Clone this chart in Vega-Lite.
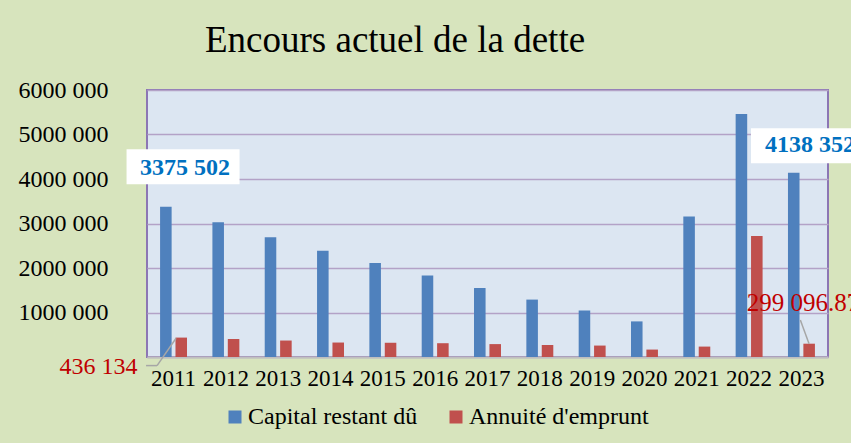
{
  "$schema": "https://vega.github.io/schema/vega-lite/v6.json",
  "width": 681,
  "height": 267,
  "autosize": {"type": "none"},
  "padding": {"left": 147, "top": 90, "right": 23, "bottom": 86},
  "background": "#D7E4BD",
  "config": {
    "font": "Liberation Serif",
    "view": {"fill": "#DCE6F2", "stroke": "#8C76B4", "strokeWidth": 2}
  },
  "title": {
    "text": "Encours actuel de la dette",
    "font": "Liberation Serif",
    "fontSize": 37,
    "fontWeight": "normal",
    "color": "#000000",
    "anchor": "start",
    "frame": "group",
    "dx": 58,
    "dy": -14
  },
  "data": {
    "values": [
      {"year": "2011", "serie": "Capital restant dû", "value": 3375502, "lbl": "3375 502"},
      {"year": "2012", "serie": "Capital restant dû", "value": 3030000},
      {"year": "2013", "serie": "Capital restant dû", "value": 2690000},
      {"year": "2014", "serie": "Capital restant dû", "value": 2390000},
      {"year": "2015", "serie": "Capital restant dû", "value": 2110000},
      {"year": "2016", "serie": "Capital restant dû", "value": 1830000},
      {"year": "2017", "serie": "Capital restant dû", "value": 1550000},
      {"year": "2018", "serie": "Capital restant dû", "value": 1290000},
      {"year": "2019", "serie": "Capital restant dû", "value": 1045000},
      {"year": "2020", "serie": "Capital restant dû", "value": 800000},
      {"year": "2021", "serie": "Capital restant dû", "value": 3160000},
      {"year": "2022", "serie": "Capital restant dû", "value": 5460000},
      {"year": "2023", "serie": "Capital restant dû", "value": 4138352, "lbl": "4138 352"},
      {"year": "2011", "serie": "Annuité d'emprunt", "value": 436134, "lbl": "436 134"},
      {"year": "2012", "serie": "Annuité d'emprunt", "value": 405000},
      {"year": "2013", "serie": "Annuité d'emprunt", "value": 370000},
      {"year": "2014", "serie": "Annuité d'emprunt", "value": 325000},
      {"year": "2015", "serie": "Annuité d'emprunt", "value": 320000},
      {"year": "2016", "serie": "Annuité d'emprunt", "value": 310000},
      {"year": "2017", "serie": "Annuité d'emprunt", "value": 290000},
      {"year": "2018", "serie": "Annuité d'emprunt", "value": 270000},
      {"year": "2019", "serie": "Annuité d'emprunt", "value": 257000},
      {"year": "2020", "serie": "Annuité d'emprunt", "value": 167000},
      {"year": "2021", "serie": "Annuité d'emprunt", "value": 234000},
      {"year": "2022", "serie": "Annuité d'emprunt", "value": 2720000},
      {"year": "2023", "serie": "Annuité d'emprunt", "value": 299096.87, "lbl": "299 096.87"}
    ]
  },
  "encoding": {
    "x": {
      "field": "year",
      "type": "nominal",
      "scale": {"paddingInner": 0.485, "paddingOuter": 0.25},
      "axis": {
        "title": null,
        "labelAngle": 0,
        "labelFontSize": 23,
        "labelColor": "#000000",
        "labelPadding": 10,
        "ticks": false,
        "domainColor": "#BFBFBF",
        "domainWidth": 2,
        "grid": false
      }
    },
    "y": {
      "field": "value",
      "type": "quantitative",
      "scale": {"domain": [0, 6000000], "nice": false, "zero": true},
      "axis": {
        "title": null,
        "values": [0, 1000000, 2000000, 3000000, 4000000, 5000000, 6000000],
        "labelExpr": "datum.value == 0 ? '' : format(datum.value / 1000000, 'd') + '000 000'",
        "labelFontSize": 24,
        "labelColor": "#000000",
        "labelPadding": 39,
        "ticks": false,
        "domain": false,
        "grid": true,
        "gridColor": "#B3A2C7",
        "gridWidth": 1.5
      }
    }
  },
  "layer": [
    {
      "mark": {"type": "bar"},
      "encoding": {
        "xOffset": {
          "field": "serie",
          "type": "nominal",
          "sort": ["Capital restant dû", "Annuité d'emprunt"],
          "scale": {"paddingInner": 0.25}
        },
        "color": {
          "field": "serie",
          "type": "nominal",
          "sort": ["Capital restant dû", "Annuité d'emprunt"],
          "scale": {"domain": ["Capital restant dû", "Annuité d'emprunt"], "range": ["#4F81BD", "#C0504D"]},
          "legend": {
            "title": null,
            "orient": "none",
            "legendX": 76,
            "legendY": 315,
            "direction": "horizontal",
            "symbolType": "square",
            "symbolSize": 169,
            "symbolStrokeWidth": 0,
            "labelFontSize": 24,
            "labelFont": "Liberation Serif",
            "labelColor": "#000000",
            "labelOffset": 1,
            "labelLimit": 0,
            "columnPadding": 26
          }
        }
      }
    },
    {
      "transform": [{"filter": "datum.year == '2011' && datum.serie == 'Capital restant dû'"}],
      "mark": {"type": "point", "shape": "M-1,-0.31L1,-0.31L1,0.31L-1,0.31Z", "size": 12769, "filled": true, "fill": "#FFFFFF", "opacity": 1, "strokeWidth": 0, "xOffset": 9.5, "yOffset": -40}
    },
    {
      "transform": [{"filter": "datum.year == '2023' && datum.serie == 'Capital restant dû'"}],
      "mark": {"type": "point", "shape": "M-1,-0.31L1,-0.31L1,0.31L-1,0.31Z", "size": 12769, "filled": true, "fill": "#FFFFFF", "opacity": 1, "strokeWidth": 0, "xOffset": 6, "yOffset": -27}
    },
    {
      "transform": [{"filter": "datum.year == '2011' && datum.serie == 'Capital restant dû'"}],
      "mark": {"type": "text", "fontSize": 24, "fontWeight": "bold", "color": "#0070C0", "align": "center", "baseline": "middle", "dx": 11.5, "dy": -39},
      "encoding": {"text": {"field": "lbl"}}
    },
    {
      "transform": [{"filter": "datum.year == '2023' && datum.serie == 'Capital restant dû'"}],
      "mark": {"type": "text", "fontSize": 24, "fontWeight": "bold", "color": "#0070C0", "align": "left", "baseline": "middle", "dx": -36.4, "dy": -27.5},
      "encoding": {"text": {"field": "lbl"}}
    },
    {
      "transform": [{"filter": "datum.year == '2011' && datum.serie == 'Annuité d\\'emprunt'"}],
      "mark": {"type": "rule", "color": "#A6A6A6", "strokeWidth": 1.5, "xOffset": 2.5, "yOffset": 0.7, "x2Offset": -16.5, "y2Offset": 28},
      "encoding": {"x2": {"field": "year"}, "y2": {"field": "value"}}
    },
    {
      "transform": [{"filter": "datum.year == '2011' && datum.serie == 'Annuité d\\'emprunt'"}],
      "mark": {"type": "rule", "color": "#A6A6A6", "strokeWidth": 1.5, "xOffset": -16.5, "yOffset": 28, "x2Offset": -27.5, "y2Offset": 28},
      "encoding": {"x2": {"field": "year"}, "y2": {"field": "value"}}
    },
    {
      "transform": [{"filter": "datum.year == '2023' && datum.serie == 'Annuité d\\'emprunt'"}],
      "mark": {"type": "rule", "color": "#A6A6A6", "strokeWidth": 1.5, "xOffset": 7.6, "yOffset": 0, "x2Offset": -1.1, "y2Offset": -23.7},
      "encoding": {"x2": {"field": "year"}, "y2": {"field": "value"}}
    },
    {
      "transform": [{"filter": "datum.year == '2011' && datum.serie == 'Annuité d\\'emprunt'"}],
      "mark": {"type": "text", "fontSize": 24, "color": "#C00000", "align": "right", "baseline": "middle", "dx": -36, "dy": 29},
      "encoding": {"text": {"field": "lbl"}}
    },
    {
      "transform": [{"filter": "datum.year == '2023' && datum.serie == 'Annuité d\\'emprunt'"}],
      "mark": {"type": "text", "fontSize": 25, "color": "#C00000", "align": "left", "baseline": "middle", "dx": -54.7, "dy": -40.4},
      "encoding": {"text": {"field": "lbl"}}
    }
  ]
}
